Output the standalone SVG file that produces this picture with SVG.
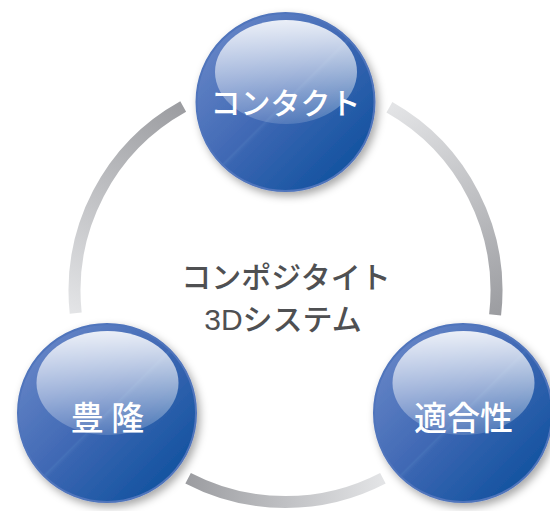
<svg xmlns="http://www.w3.org/2000/svg" width="550" height="511" viewBox="0 0 550 511">
  <defs>
    <linearGradient id="ball" x1="0.12" y1="0.12" x2="0.88" y2="0.88">
      <stop offset="0" stop-color="#6484c6"/>
      <stop offset="0.49" stop-color="#3f68b4"/>
      <stop offset="0.5" stop-color="#4570b8"/>
      <stop offset="0.52" stop-color="#3a66b2"/>
      <stop offset="1" stop-color="#12529f"/>
    </linearGradient>
    <linearGradient id="gloss" x1="0" y1="0" x2="0" y2="1">
      <stop offset="0" stop-color="#ffffff" stop-opacity="0.88"/>
      <stop offset="1" stop-color="#ffffff" stop-opacity="0.15"/>
    </linearGradient>
    <linearGradient id="gL" gradientUnits="userSpaceOnUse" x1="75.7" y1="313.1" x2="183.2" y2="106.5">
      <stop offset="0" stop-color="#e3e4e6"/>
      <stop offset="1" stop-color="#9c9da1"/>
    </linearGradient>
    <linearGradient id="gR" gradientUnits="userSpaceOnUse" x1="389.4" y1="107.3" x2="495.1" y2="314.9">
      <stop offset="0" stop-color="#e3e4e6"/>
      <stop offset="1" stop-color="#9c9da1"/>
    </linearGradient>
    <linearGradient id="gB" gradientUnits="userSpaceOnUse" x1="382.9" y1="478.2" x2="188.1" y2="478.2">
      <stop offset="0" stop-color="#e3e4e6"/>
      <stop offset="1" stop-color="#9c9da1"/>
    </linearGradient>
    <filter id="shadow" x="-20%" y="-20%" width="150%" height="150%">
      <feDropShadow dx="3" dy="4" stdDeviation="4" flood-color="#000000" flood-opacity="0.35"/>
    </filter>
    <style>
      .arc { fill: none; stroke-width: 12; stroke-linecap: butt; }
      .ball { fill: url(#ball); stroke: #5074bc; stroke-width: 2; filter: url(#shadow); }
      .gloss { fill: url(#gloss); }
      .label { font-family: "Noto Sans CJK JP", "Noto Sans", sans-serif; fill: #ffffff; text-anchor: middle; font-weight: 500; }
      .center { font-family: "Liberation Sans", "Noto Sans CJK JP", sans-serif; fill: #4f5052; text-anchor: middle; font-size: 30px; font-weight: 500; }
    </style>
  </defs>
  <rect width="550" height="511" fill="#ffffff"/>
  <g id="connectors">
    <path class="arc" stroke="url(#gL)" d="M 75.7 313.1 A 211 211 0 0 1 183.2 106.5"/>
    <path class="arc" stroke="url(#gR)" d="M 389.4 107.3 A 211 211 0 0 1 495.1 314.9"/>
    <path class="arc" stroke="url(#gB)" d="M 382.9 478.2 A 211 211 0 0 1 188.1 478.2"/>
  </g>
  <g id="center-label">
    <text class="center" x="286" y="288">コンポジタイト</text>
    <text class="center" x="283" y="330">3Dシステム</text>
  </g>
  <g id="node-contact">
    <circle class="ball" cx="285.5" cy="102" r="89"/>
    <ellipse class="gloss" cx="286" cy="72" rx="71" ry="52"/>
    <text class="label" x="285.5" y="114" font-size="30">コンタクト</text>
  </g>
  <g id="node-houryu">
    <circle class="ball" cx="107" cy="413" r="89"/>
    <ellipse class="gloss" cx="107.5" cy="383" rx="71" ry="52"/>
    <text class="label" x="107.5" y="430" font-size="33">豊 隆</text>
  </g>
  <g id="node-tekigousei">
    <circle class="ball" cx="463" cy="413" r="89"/>
    <ellipse class="gloss" cx="463.5" cy="383" rx="71" ry="52"/>
    <text class="label" x="463.5" y="430" font-size="33">適合性</text>
  </g>
</svg>
